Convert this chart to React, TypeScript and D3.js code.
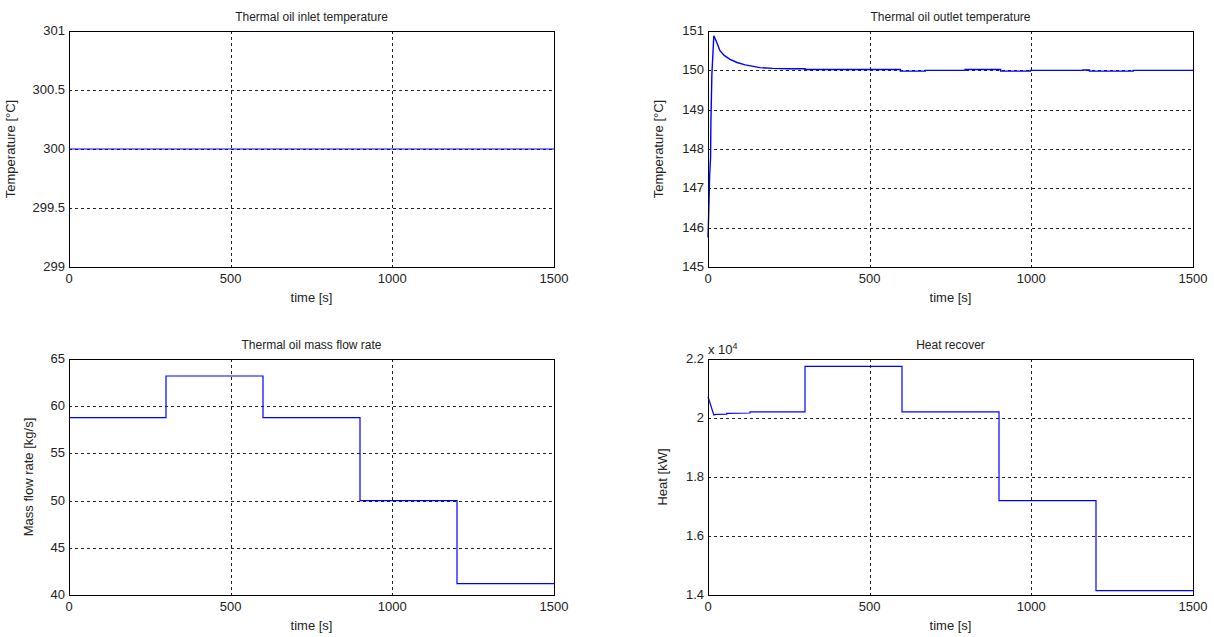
import * as d3 from "d3";
import { useEffect, useRef } from "react";

// time axis shared by all panels
const timeTicks = [0, 500, 1000, 1500];

// thermal oil inlet temperature [°C]
const inletTime = [0, 1500];
const inletTemp = [300, 300];

// thermal oil outlet temperature [°C]
const outletTime = [0, 2, 5, 8, 9, 12, 18, 25, 37, 50, 68, 90, 115, 140, 160, 200, 250, 300, 300, 595, 595, 672, 672, 795, 795, 905, 905, 997, 997, 1160, 1160, 1180, 1180, 1315, 1315, 1500];
const outletTemp = [145.75, 146.3, 147.3, 147.8, 148.7, 149.9, 150.88, 150.75, 150.5, 150.38, 150.28, 150.2, 150.14, 150.1, 150.07, 150.05, 150.04, 150.04, 150.02, 150.02, 149.98, 149.98, 150.0, 150.0, 150.02, 150.02, 149.98, 149.98, 150.0, 150.0, 150.01, 150.01, 149.98, 149.98, 150.0, 150.0];

// thermal oil mass flow rate [kg/s], piecewise constant
const flowTime = [0, 300, 600, 900, 1200, 1500];
const flowRate = [58.8, 63.2, 58.8, 50.0, 41.2, 41.2];

// heat recovered [kW]
const heatTime = [0, 18, 25, 58, 58, 130, 130, 300, 300, 600, 600, 900, 900, 1200, 1200, 1500];
const heatValue = [20720, 20100, 20120, 20130, 20160, 20170, 20210, 20210, 21750, 21750, 20210, 20210, 17200, 17200, 14150, 14150];

const panels = [
  {
    title: "Thermal oil inlet temperature",
    ylabel: "Temperature [°C]",
    x: 69, y: 31, lab: -54,
    domain: [299, 301], yTicks: [299, 299.5, 300, 300.5, 301],
    t: inletTime, v: inletTemp, fmt: (d) => String(d),
  },
  {
    title: "Thermal oil outlet temperature",
    ylabel: "Temperature [°C]",
    x: 708, y: 31, lab: -45,
    domain: [145, 151], yTicks: [145, 146, 147, 148, 149, 150, 151],
    t: outletTime, v: outletTemp, fmt: (d) => String(d), sw: 1.4,
  },
  {
    title: "Thermal oil mass flow rate",
    ylabel: "Mass flow rate [kg/s]",
    x: 69, y: 359, lab: -36,
    domain: [40, 65], yTicks: [40, 45, 50, 55, 60, 65],
    t: flowTime, v: flowRate, fmt: (d) => String(d), step: true,
  },
  {
    title: "Heat recover",
    ylabel: "Heat [kW]",
    x: 708, y: 359, lab: -41,
    domain: [14000, 22000], yTicks: [14000, 16000, 18000, 20000, 22000],
    t: heatTime, v: heatValue, fmt: (d) => String(+(d / 1e4).toFixed(1)), exp: true,
  },
];

const W = 485;
const H = 236;

const Panel = ({ p }) => {
  const ref = useRef(null);

  useEffect(() => {
    const g = d3.select(ref.current);
    g.selectAll("*").remove();

    const sx = d3.scaleLinear().domain([0, 1500]).range([0, W]);
    const sy = d3.scaleLinear().domain(p.domain).range([H, 0]);

    // grid (interior ticks only)
    g.selectAll(".gx")
      .data(timeTicks.slice(1, -1))
      .enter()
      .append("line")
      .attr("x1", (d) => Math.round(sx(d)) + 0.5)
      .attr("x2", (d) => Math.round(sx(d)) + 0.5)
      .attr("y1", 0)
      .attr("y2", H)
      .attr("stroke", "#222")
      .attr("stroke-dasharray", "3,3");
    g.selectAll(".gy")
      .data(p.yTicks.slice(1, -1))
      .enter()
      .append("line")
      .attr("x1", 0)
      .attr("x2", W)
      .attr("y1", (d) => Math.round(sy(d)) + 0.5)
      .attr("y2", (d) => Math.round(sy(d)) + 0.5)
      .attr("stroke", "#222")
      .attr("stroke-dasharray", "3,3");

    // data line
    const pts = p.t.map((t, i) => [t, p.v[i]]);
    const line = d3
      .line()
      .x((d) => sx(d[0]))
      .y((d) => sy(d[1]))
      .curve(p.step ? d3.curveStepAfter : d3.curveLinear);
    g.append("path")
      .attr("d", line(pts))
      .attr("fill", "none")
      .attr("stroke", "#0000ff")
      .attr("stroke-width", p.sw || 1.2);

    // box
    g.append("rect")
      .attr("x", 0.5)
      .attr("y", 0.5)
      .attr("width", W)
      .attr("height", H)
      .attr("fill", "none")
      .attr("stroke", "#000");

    // tick labels
    g.selectAll(".tx")
      .data(timeTicks)
      .enter()
      .append("text")
      .attr("x", (d) => sx(d))
      .attr("y", H + 16)
      .attr("text-anchor", "middle")
      .text((d) => d);
    g.selectAll(".ty")
      .data(p.yTicks)
      .enter()
      .append("text")
      .attr("x", -4)
      .attr("y", (d) => sy(d) + 4)
      .attr("text-anchor", "end")
      .text(p.fmt);

    g.append("text")
      .attr("x", W / 2)
      .attr("y", H + 35)
      .attr("text-anchor", "middle")
      .text("time [s]");
    g.append("text")
      .attr("x", W / 2)
      .attr("y", -10)
      .attr("text-anchor", "middle")
      .style("font-size", "12px")
      .text(p.title);
    g.append("text")
      .attr("transform", `translate(${p.lab},${H / 2}) rotate(-90)`)
      .attr("text-anchor", "middle")
      .text(p.ylabel);

    if (p.exp) {
      const e = g.append("text").attr("x", 0).attr("y", -5);
      e.append("tspan").text("x 10");
      e.append("tspan").attr("dy", -5).style("font-size", "9px").text("4");
    }
  }, [p]);

  return (
    <g
      ref={ref}
      transform={`translate(${p.x},${p.y})`}
      style={{ fontFamily: "Arial, 'Liberation Sans', sans-serif", fontSize: "13px", fill: "#222" }}
    />
  );
};

export default function App() {
  return (
    <svg width={1214} height={637} style={{ position: "absolute", left: 0, top: 0, background: "#fff" }}>
      {panels.map((p) => (
        <Panel key={p.title} p={p} />
      ))}
    </svg>
  );
}
